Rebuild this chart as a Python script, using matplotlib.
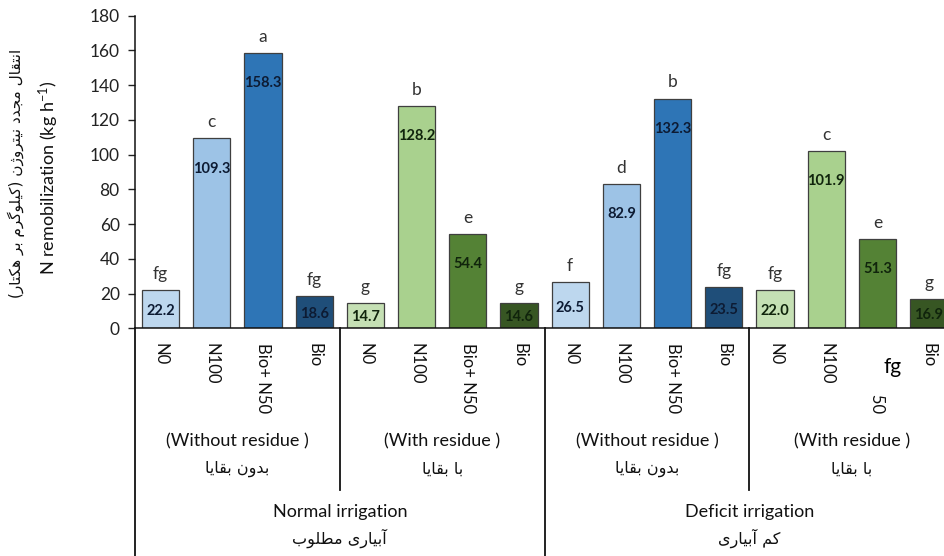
import matplotlib
matplotlib.use("Agg")
import matplotlib.pyplot as plt
import matplotlib.transforms as mtransforms
from matplotlib.patches import Rectangle

plt.rcParams['font.family'] = ['Lato', 'DejaVu Sans']
plt.rcParams['mathtext.default'] = 'regular'

# ---------------- data ----------------
treatments = ["N0", "N100", "Bio+ N50", "Bio"]
residue_en = ["(Without residue )", "(With residue )", "(Without residue )", "(With residue )"]
residue_fa = ["بدون بقایا", "با بقایا", "بدون بقایا", "با بقایا"]
irrigation_en = ["Normal irrigation", "Deficit irrigation"]
irrigation_fa = ["آبیاری مطلوب", "کم آبیاری"]
values = [22.2, 109.3, 158.3, 18.6,
          14.7, 128.2, 54.4, 14.6,
          26.5, 82.9, 132.3, 23.5,
          22.0, 101.9, 51.3, 16.9]
letters = ["fg", "c", "a", "fg",
           "g", "b", "e", "g",
           "f", "d", "b", "fg",
           "fg", "c", "e", "g"]
ylabel_en = "N remobilization (kg h$^{-1}$)"
ylabel_fa = "انتقال مجدد نیتروژن (کیلوگرم بر هکتار)"
overlay_text = "fg"

blue_cols = ["#bdd7ee", "#9dc3e6", "#2e75b6", "#1f4e79"]
green_cols = ["#c5e0b4", "#a9d18e", "#548235", "#375623"]
colors = blue_cols + green_cols + blue_cols + green_cols
val_txt_cols = ["#0d1b33"] * 4 + ["#10240c"] * 4 + ["#0d1b33"] * 4 + ["#10240c"] * 4

# -------------- Persian shaping (presentation forms) --------------
FORMS = {
    '\u0627': ('\uFE8D', '\uFE8E', None, None),
    '\u0622': ('\uFE81', '\uFE82', None, None),
    '\u0628': ('\uFE8F', '\uFE90', '\uFE91', '\uFE92'),
    '\u062A': ('\uFE95', '\uFE96', '\uFE97', '\uFE98'),
    '\u062C': ('\uFE9D', '\uFE9E', '\uFE9F', '\uFEA0'),
    '\u062F': ('\uFEA9', '\uFEAA', None, None),
    '\u0631': ('\uFEAD', '\uFEAE', None, None),
    '\u0698': ('\uFB8A', '\uFB8B', None, None),
    '\u0637': ('\uFEC1', '\uFEC2', '\uFEC3', '\uFEC4'),
    '\u0642': ('\uFED5', '\uFED6', '\uFED7', '\uFED8'),
    '\u06A9': ('\uFB8E', '\uFB8F', '\uFB90', '\uFB91'),
    '\u06AF': ('\uFB92', '\uFB93', '\uFB94', '\uFB95'),
    '\u0644': ('\uFEDD', '\uFEDE', '\uFEDF', '\uFEE0'),
    '\u0645': ('\uFEE1', '\uFEE2', '\uFEE3', '\uFEE4'),
    '\u0646': ('\uFEE5', '\uFEE6', '\uFEE7', '\uFEE8'),
    '\u0647': ('\uFEE9', '\uFEEA', '\uFEEB', '\uFEEC'),
    '\u0648': ('\uFEED', '\uFEEE', None, None),
    '\u06CC': ('\uFBFC', '\uFBFD', '\uFBFE', '\uFBFF'),
}


def shape_fa(s):
    s = s.replace('\u0643', '\u06A9').replace('\u064A', '\u06CC').replace('\u0649', '\u06CC')
    out = []
    for i, c in enumerate(s):
        if c not in FORMS:
            out.append(c)
            continue
        f = FORMS[c]
        prev = s[i - 1] if i > 0 else ''
        nxt = s[i + 1] if i + 1 < len(s) else ''
        jp = prev in FORMS and FORMS[prev][2] is not None
        jn = f[2] is not None and nxt in FORMS
        if jp and jn:
            g = f[3]
        elif jp:
            g = f[1]
        elif jn:
            g = f[2]
        else:
            g = f[0]
        out.append(g)
    mirror = {'(': ')', ')': '('}
    return ''.join(mirror.get(c, c) for c in reversed(out))


FA = ['DejaVu Sans']

# ---------------- figure ----------------
W, H = 944, 556
fig = plt.figure(figsize=(W / 100, H / 100), dpi=100)


def fx(px):
    return px / W


def fy(py):
    return (H - py) / H


ax_left, ax_bottom_px, ax_top_px = 135, 328.3, 15.7
slot = 51.2
n = len(values)
ax = fig.add_axes([fx(ax_left), fy(ax_bottom_px), n * slot / W, (ax_bottom_px - ax_top_px) / H])

x = list(range(n))
ax.bar(x, values, width=0.73, color=colors, edgecolor="#3f3f3f", linewidth=0.9, zorder=2)
ax.set_xlim(-0.5, n - 0.5)
ax.set_ylim(0, 180)
ax.set_yticks(range(0, 181, 20))
ax.tick_params(axis='y', direction='out', length=5, width=1, labelsize=12.5, colors='#222222', pad=6)
ax.tick_params(axis='x', length=0, labelbottom=False)
for s in ['top', 'right']:
    ax.spines[s].set_visible(False)
for s in ['left', 'bottom']:
    ax.spines[s].set_linewidth(1.1)
    ax.spines[s].set_color('#111111')

# value labels and letters
for xi, v, lt, tc in zip(x, values, letters, val_txt_cols):
    ly = v - 17.3 if v > 40 else v * 0.45
    ax.text(xi, ly, f"{v:.1f}", ha='center', va='center', fontsize=10.5,
            fontweight='bold', color=tc, zorder=3)
    ax.annotate(lt, (xi, v), xytext=(0, 8), textcoords='offset points',
                ha='center', va='baseline', fontsize=12.5, color='#333333')

# category axis (below)
bt = mtransforms.blended_transform_factory(ax.transData, fig.transFigure)
for xi in x:
    ax.text(xi, fy(343), treatments[xi % 4], transform=bt, rotation=-90,
            ha='center', va='top', fontsize=12, color='#111111', clip_on=False)

for g in range(4):
    cx = g * 4 + 1.5
    ax.text(cx, fy(441), residue_en[g], transform=bt, ha='center', va='center',
            fontsize=13, color='#111111', clip_on=False)
    ax.text(cx, fy(469), shape_fa(residue_fa[g]), transform=bt, ha='center', va='center',
            fontsize=11.5, color='#111111', family=FA, clip_on=False)

for k in range(2):
    cx = k * 8 + 3.5
    ax.text(cx, fy(512), irrigation_en[k], transform=bt, ha='center', va='center',
            fontsize=13, color='#111111', clip_on=False)
    ax.text(cx, fy(538), shape_fa(irrigation_fa[k]), transform=bt, ha='center', va='center',
            fontsize=11.5, color='#111111', family=FA, clip_on=False)

# separators
for g in range(1, 4):
    xs = g * 4 - 0.5
    ybot = fy(H) if g == 2 else fy(490)
    ax.plot([xs, xs], [fy(ax_bottom_px), ybot], transform=bt, color='#111111',
            lw=1.3, clip_on=False, zorder=5)
ax.plot([-0.5, -0.5], [fy(ax_bottom_px), 0], transform=bt, color='#111111',
        lw=1.3, clip_on=False, zorder=5)

# y labels
fig.text(fx(49), fy(178), ylabel_en, rotation=90, ha='center', va='center',
         fontsize=13, color='#111111')
fig.text(fx(16), fy(173), shape_fa(ylabel_fa), rotation=90, ha='center', va='center',
         fontsize=11, color='#111111', family=FA)

# white patch with stray "fg" over the last Bio+ N50 label (as in the source image)
fig.add_artist(Rectangle((fx(865), fy(395)), 57 / W, 53 / H, transform=fig.transFigure,
                         facecolor='white', edgecolor='none', zorder=10))
fig.text(fx(893), fy(367), overlay_text, ha='center', va='center', fontsize=15,
         color='#000000', zorder=11)

fig.savefig("out.png", dpi=100)
